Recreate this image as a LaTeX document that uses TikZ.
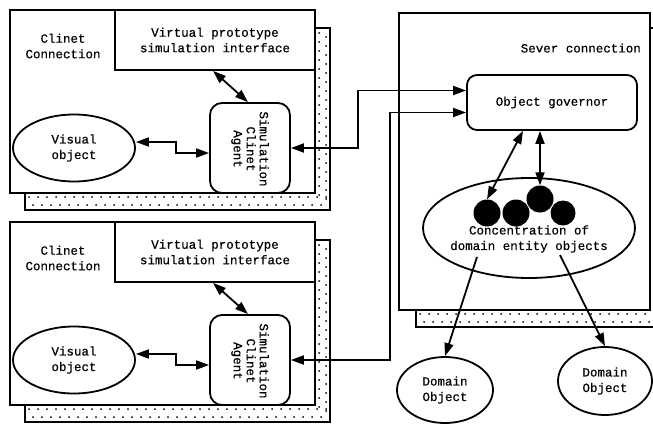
\documentclass[tikz,border=0pt]{standalone}
\usepackage{fontspec}
\setmainfont{Liberation Mono}[FakeBold=0.5]
\usetikzlibrary{arrows.meta,shapes.geometric,calc}
\begin{document}
\begin{tikzpicture}[x=1pt,y=-1pt,
  every node/.style={font=\fontsize{12.5}{15.5}\selectfont, align=center},
  frame/.style={draw, line width=1.8pt, fill=white, inner sep=0pt},
  shadowbox/.style={draw, line width=1.8pt, fill=white},
  roundbox/.style={frame, rounded corners=12pt},
  oval/.style={draw, ellipse, line width=1.8pt, fill=white, inner sep=0pt},
  link/.style={line width=1.8pt},
  tip/.tip={Triangle[length=13pt,width=9pt]},
  dbl/.style={link, tip-tip},
  sgl/.style={link, -tip},
  blob/.style={circle, fill=black, inner sep=0pt},
  plain/.style={inner sep=0pt}
]
\useasboundingbox (0,0) rectangle (653,425);

% ---------- client connections ----------
\foreach \k/\dy in {1/0, 2/212} {
 \begin{scope}[shift={(0,\dy)}]
  \draw[shadowbox] (25,28) rectangle (330,210);
  \foreach \i in {0,...,33} {
    \fill ({29+9*\i},197) circle (1pt);
    \fill ({33+9*\i},205) circle (1pt);
  }
  \foreach \j in {0,...,18} {
    \fill (319,{33+9*\j}) circle (1pt);
    \fill (326,{37+9*\j}) circle (1pt);
  }
  \node[frame, minimum width=305pt, minimum height=183pt] (cc\k) at (162.5,101.5) {};
  \node[plain] (cct\k) at (63,46) {Clinet\\Connection};
  \node[frame, minimum width=200pt, minimum height=60pt] (vpi\k) at (215,40)
     {Virtual prototype\\simulation interface};
  \node[oval, minimum width=122pt, minimum height=67pt] (vo\k) at (74,148) {Visual\\object};
  \node[roundbox, minimum width=80pt, minimum height=90pt] (sa\k) at (250,148) {};
  \node[plain, rotate=-90, font=\fontsize{12.5}{13}\selectfont] (sat\k) at (250,149)
     {Simulation\\Clinet\\Agent};
  \draw[dbl] ([xshift=-2pt]vpi\k.south) -- ([xshift=-2pt]sa\k.north);
  \draw[dbl] ([yshift=6pt]vo\k.east) -- ++(40,0) |- ([yshift=-5pt]sa\k.west);
 \end{scope}
}

% ---------- server connection ----------
\draw[shadowbox] (416,28) rectangle (675,327);
\foreach \i in {0,...,27} {
  \fill ({420+9*\i},314) circle (1pt);
  \fill ({424+9*\i},322) circle (1pt);
}
\node[frame, minimum width=251pt, minimum height=297pt] (srv) at (524.5,161.5) {};
\node[plain, anchor=east] (srvt) at (641,48) {Sever connection};
\node[roundbox, rounded corners=10pt, minimum width=170pt, minimum height=55pt] (og) at (552,102.5)
   {Object governor};
\node[oval, minimum width=212pt, minimum height=100pt] (conc) at (529,228) {};
\node[blob, minimum size=27pt] (c1) at (487,213) {};
\node[blob, minimum size=27pt] (c2) at (516,213) {};
\node[blob, minimum size=25pt] (c4) at (563,213) {};
\node[blob, minimum size=27pt] (c3) at (540,199) {};
\node[plain] (conct) at (529,239) {Concentration of\\domain entity objects};

\node[oval, minimum width=96pt, minimum height=66pt] (do1) at (445,390) {Domain\\Object};
\node[oval, minimum width=94pt, minimum height=68pt] (do2) at (605,381) {Domain\\Object};

\coordinate (d1s) at (477,257);
\coordinate (d2s) at (560,255);

\draw[dbl] ([xshift=-29pt]og.south) -- (c1.north);
\draw[dbl] (og.south -| c3.north) -- (c3.north);
\draw[sgl] (d1s) -- (do1.north);
\draw[sgl] (d2s) -- (do2.north);

% ---------- client to server links ----------
\draw[dbl] (sa1.east) -- ++(67,0) |- ([yshift=12pt]og.west);
\draw[dbl] (sa2.east) -- ++(99,0) |- ([yshift=-10pt]og.west);
\end{tikzpicture}
\end{document}
